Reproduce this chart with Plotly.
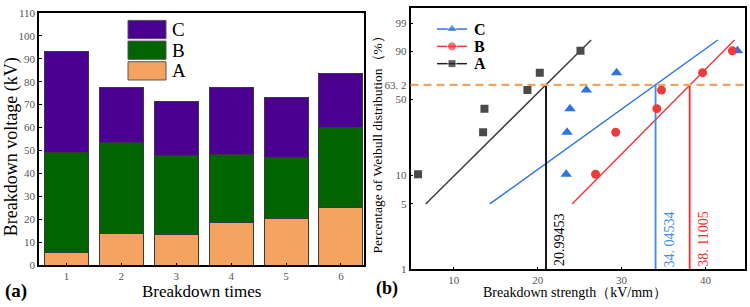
import numpy as np
import plotly.graph_objects as go

# ---------------- data ----------------
times = [1, 2, 3, 4, 5, 6]
seg_A = [5.8, 13.7, 13.5, 18.8, 20.5, 25.1]
seg_B = [43.2, 39.7, 34.5, 29.4, 26.7, 34.9]
seg_C = [44.0, 23.9, 23.5, 29.3, 26.0, 23.7]

rank_pct = [10.2, 26.4, 42.4, 58.4, 74.2, 90.3]
str_A = [5.75, 13.5, 13.66, 18.78, 20.25, 25.1]
str_B = [26.9, 29.3, 34.2, 34.75, 39.65, 43.2]
str_C = [23.4, 23.5, 23.85, 25.8, 29.4, 43.8]

fit_pct = [5, 95.3]
fit_A = [6.66, 26.37]
fit_B = [24.1, 43.45]
fit_C = [14.3, 41.46]

eta_A, eta_B, eta_C = 20.99453, 38.11005, 34.04534
eta_labels = ["20.99453", "38. 11005", "34. 04534"]
p_char = 63.2

y_ticks_pct = [1, 5, 10, 50, 63.2, 90, 99]
y_ticks_txt = ["1", "5", "10", "50", "63. 2", "90", "99"]


def wb(p):
    p = np.asarray(p, dtype=float) / 100.0
    return np.log(-np.log(1 - p))


SERIF = "Times New Roman, Liberation Serif, serif"
cA, cB, cC = "#F4A460", "#006400", "#4B0092"
blue, red, dark = "#2B74E2", "#F03A3A", "#4A4A4A"
W, H = 750.0, 307.0

fig = go.Figure()

# ---------------- left: stacked bars ----------------
for name, vals, col in [("A", seg_A, cA), ("B", seg_B, cB), ("C", seg_C, cC)]:
    fig.add_trace(go.Bar(x=times, y=vals, name=name, marker=dict(color=col, line=dict(color="#3a3a3a", width=1)),
                         xaxis="x", yaxis="y", showlegend=False))

# ---------------- right: Weibull ----------------
fig.add_shape(type="line", xref="x2 domain", yref="y2", x0=0, x1=1, y0=float(wb(p_char)), y1=float(wb(p_char)),
              line=dict(color="#F4A460", width=2.2, dash="8px,5px"))

for xs, col in [(fit_A, "#404040"), (fit_C, blue), (fit_B, red)]:
    fig.add_trace(go.Scatter(x=xs, y=wb(fit_pct), mode="lines", line=dict(color=col, width=1.5),
                             xaxis="x2", yaxis="y2", showlegend=False))

for eta, col in [(eta_A, "black"), (eta_C, "#3D8BEB"), (eta_B, "#FF2A2A")]:
    fig.add_trace(go.Scatter(x=[eta, eta], y=wb([1, p_char]), mode="lines", line=dict(color=col, width=1.8),
                             xaxis="x2", yaxis="y2", showlegend=False))

fig.add_trace(go.Scatter(x=str_A, y=wb(rank_pct), mode="markers", marker=dict(symbol="square", size=8, color=dark),
                         xaxis="x2", yaxis="y2", showlegend=False))
fig.add_trace(go.Scatter(x=str_C, y=wb(rank_pct), mode="markers", marker=dict(symbol="triangle-up", size=10, color=blue),
                         xaxis="x2", yaxis="y2", showlegend=False))
fig.add_trace(go.Scatter(x=str_B, y=wb(rank_pct), mode="markers", marker=dict(symbol="circle", size=9, color=red),
                         xaxis="x2", yaxis="y2", showlegend=False))

# rotated labels
for eta, txt, col in [(eta_A, eta_labels[0], "black"), (eta_B, eta_labels[1], "#FF2A2A"), (eta_C, eta_labels[2], "#3D8BEB")]:
    fig.add_annotation(x=eta, y=1 - 243 / H, xref="x2", yref="paper", text=txt, textangle=-90, showarrow=False,
                       xanchor="left", yanchor="middle", xshift=4, font=dict(family=SERIF, size=14, color=col))

# left manual legend (large rectangles)
for i, (lab, col) in enumerate([("C", cC), ("B", cB), ("A", cA)]):
    top = 15 + i * 21.5
    fig.add_shape(type="rect", xref="paper", yref="paper", x0=128 / W, x1=166 / W, y0=1 - (top + 19) / H, y1=1 - top / H,
                  fillcolor=col, line=dict(color="#555555", width=1))
    fig.add_annotation(x=170 / W, y=1 - (top + 9.5) / H, xref="paper", yref="paper", text=lab, showarrow=False,
                       xanchor="left", yanchor="middle", font=dict(family=SERIF, size=19, color="black"))

# right manual legend (line + marker), drawn on a hidden pixel-space overlay axis
leg_items = [("C", blue, "triangle-up", 10), ("B", red, "circle", 9), ("A", "#222222", "square", 8)]
for i, (lab, col, sym, sz) in enumerate(leg_items):
    yy = 24 + i * 18
    fig.add_trace(go.Scatter(x=[437, 452, 467], y=[yy, yy, yy], mode="lines+markers",
                             line=dict(color=col, width=1.5),
                             marker=dict(symbol=sym, size=[0, sz, 0], color=col),
                             xaxis="x3", yaxis="y3", showlegend=False, hoverinfo="skip"))
    fig.add_annotation(x=472, y=yy, xref="x3", yref="y3", text="<b>%s</b>" % lab, showarrow=False,
                       xanchor="left", yanchor="middle", font=dict(family=SERIF, size=16, color="black"))

# titles / labels
fig.add_annotation(x=202 / W, y=1 - 297 / H, xref="paper", yref="paper", text="Breakdown times", showarrow=False,
                   xanchor="center", yanchor="middle", font=dict(family=SERIF, size=17, color="black"))
fig.add_annotation(x=3 / W, y=1 - 297 / H, xref="paper", yref="paper", text="<b>(a)</b>", showarrow=False,
                   xanchor="left", yanchor="middle", font=dict(family=SERIF, size=19, color="black"))
fig.add_annotation(x=11 / W, y=1 - 147 / H, xref="paper", yref="paper", text="Breakdown voltage (kV)", showarrow=False,
                   textangle=-90, xanchor="center", yanchor="middle", font=dict(family=SERIF, size=18, color="black"))
fig.add_annotation(x=575 / W, y=1 - 298 / H, xref="paper", yref="paper", text="Breakdown strength（kV/mm）", showarrow=False,
                   xanchor="center", yanchor="middle", font=dict(family=SERIF, size=14, color="black"))
fig.add_annotation(x=374 / W, y=1 - 294 / H, xref="paper", yref="paper", text="<b>(b)</b>", showarrow=False,
                   xanchor="left", yanchor="middle", font=dict(family=SERIF, size=18, color="black"))
fig.add_annotation(x=377 / W, y=1 - 141 / H, xref="paper", yref="paper", text="Percentage of Weibull distribution（%）",
                   showarrow=False, textangle=-90, xanchor="center", yanchor="middle",
                   font=dict(family=SERIF, size=13.5, color="black"))

tickfont = dict(family=SERIF, size=11, color="#555555")
axis_common = dict(showline=True, linecolor="black", linewidth=1.5, mirror=True, ticks="inside", ticklen=3,
                   tickcolor="black", showgrid=False, zeroline=False, tickfont=tickfont)

fig.update_layout(
    width=750, height=307, margin=dict(l=0, r=0, t=0, b=0),
    paper_bgcolor="white", plot_bgcolor="rgba(0,0,0,0)",
    barmode="stack", bargap=0.2,
    xaxis=dict(domain=[39 / W, 364 / W], range=[0.5, 6.42], tickvals=times, anchor="y", **axis_common),
    yaxis=dict(domain=[1 - 270 / H, 1 - 7 / H], range=[0, 110], dtick=10, anchor="x", **axis_common),
    xaxis2=dict(domain=[410.5 / W, 745 / W], range=[4.85, 44.7], tickvals=[10, 20, 30, 40], anchor="y2", **axis_common),
    yaxis2=dict(domain=[1 - 274 / H, 1 - 2 / H], range=[float(wb(1)), 1.918], tickvals=list(wb(y_ticks_pct)),
                ticktext=y_ticks_txt, anchor="x2", **axis_common),
    xaxis3=dict(domain=[0, 1], range=[0, W], visible=False, anchor="y3"),
    yaxis3=dict(domain=[0, 1], range=[H, 0], visible=False, anchor="x3"),
    showlegend=False,
)

fig.write_html("out.html")
